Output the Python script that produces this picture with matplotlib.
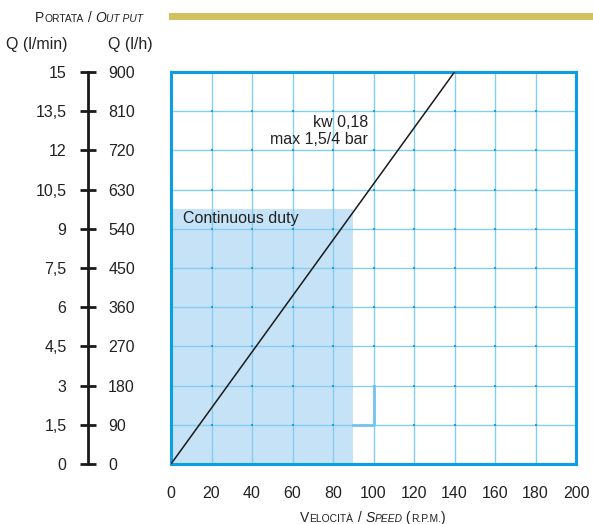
import matplotlib
matplotlib.use("Agg")
import matplotlib.pyplot as plt
import numpy as np
from matplotlib.patches import Rectangle

plt.rcParams['font.family'] = ['Liberation Sans', 'DejaVu Sans']

# data
speed_ticks = [0, 20, 40, 60, 80, 100, 120, 140, 160, 180, 200]
q_lmin_ticks = [0, 1.5, 3, 4.5, 6, 7.5, 9, 10.5, 12, 13.5, 15]
q_lmin_labels = ["0", "1,5", "3", "4,5", "6", "7,5", "9", "10,5", "12", "13,5", "15"]
q_lh_ticks = [0, 90, 180, 270, 360, 450, 540, 630, 720, 810, 900]
curve_speed = [0, 140]
curve_q = [0, 15]
duty_speed_max = 90
duty_q_max = 9.75
step_x = [90, 100, 100]
step_y = [1.5, 1.5, 3]

W, H = 593, 524
fig = plt.figure(figsize=(W/100, H/100), dpi=100)

def fx(px): return px / W
def fy(py): return 1 - py / H

FS = 11.5
txt_c = '#222222'
grid_c = '#86cdf0'
frame_c = '#0c9ee2'
dot_c = '#1a9fe0'

ax = fig.add_axes([fx(171), fy(464), (576-171)/W, (464-72)/H])
ax.set_xlim(0, 200)
ax.set_ylim(0, 15)
ax.add_patch(Rectangle((0, 0), duty_speed_max, duty_q_max, facecolor='#c6e2f6', edgecolor='none', zorder=0))
for x in speed_ticks[1:-1]:
    ax.axvline(x, color=grid_c, lw=1.0, zorder=1)
for y in q_lmin_ticks[1:-1]:
    ax.axhline(y, color=grid_c, lw=1.0, zorder=1)
gx, gy = np.meshgrid(speed_ticks[1:-1], q_lmin_ticks[1:-1])
ax.scatter(gx.ravel(), gy.ravel(), s=3, marker='s', color=dot_c, zorder=2, linewidths=0)
ax.plot(step_x, step_y, color='#74c3ec', lw=2, zorder=2)
ax.plot(curve_speed, curve_q, color='#1a1a1a', lw=1.1, zorder=3)
for s in ax.spines.values():
    s.set_color(frame_c)
    s.set_linewidth(2.2)
ax.set_xticks(speed_ticks)
ax.set_xticklabels([str(v) for v in speed_ticks], fontsize=FS, color=txt_c)
ax.tick_params(axis='x', length=0, pad=16)
ax.set_yticks([])

ax.text(97.3, 13.05, "kw 0,18", ha='right', va='center', fontsize=FS, color=txt_c)
ax.text(97.3, 12.4, "max 1,5/4 bar", ha='right', va='center', fontsize=FS, color=txt_c)
ax.text(5.9, 9.38, "Continuous duty", ha='left', va='center', fontsize=FS, color=txt_c)

# left double axis
axl = fig.add_axes([fx(88), fy(464), 0.0001, (464-72)/H])
axl.set_ylim(0, 15)
axl.set_xticks([])
for k in ['top', 'bottom', 'right']:
    axl.spines[k].set_visible(False)
axl.spines['left'].set_linewidth(2)
axl.spines['left'].set_color('#1a1a1a')
axl.set_yticks(q_lmin_ticks)
axl.set_yticklabels(q_lmin_labels, fontsize=FS, color=txt_c)
axl.tick_params(axis='y', direction='inout', length=11, width=2, color='#1a1a1a', pad=10)
axr = axl.twinx()
axr.set_ylim(0, 900)
for k in ['top', 'bottom', 'left', 'right']:
    axr.spines[k].set_visible(False)
axr.set_yticks(q_lh_ticks)
axr.set_yticklabels([str(v) for v in q_lh_ticks], fontsize=FS, color=txt_c)
axr.tick_params(axis='y', length=0, pad=14.5)

fig.text(fx(68), fy(44), "Q (l/min)", ha='right', va='center', fontsize=FS, color=txt_c)
fig.text(fx(108), fy(44), "Q (l/h)", ha='left', va='center', fontsize=FS, color=txt_c)

# gold bar
fig.patches.append(Rectangle((fx(169), fy(19.5)), (593-169)/W, 6.5/H, transform=fig.transFigure,
                             facecolor='#d3c15f', edgecolor='none'))

def smallcaps(parts, x, y, ha='left'):
    allt = []
    for txt, size, style in parts:
        t = fig.text(x, y, txt, fontsize=size, style=style, ha='left', va='baseline', color=txt_c)
        allt.append(t)
    fig.canvas.draw()
    r = fig.canvas.get_renderer()
    widths = [t.get_window_extent(r).width for t in allt]
    total = sum(widths)
    x0 = x * W
    if ha == 'center':
        x0 = x * W - total / 2
    cur = x0
    for t, w in zip(allt, widths):
        t.set_position((cur / W, y))
        cur += w

P, S = 10, 7.4
smallcaps([("P", P, 'normal'), ("ORTATA", S, 'normal'), (" / ", P, 'normal'),
           ("O", P, 'italic'), ("UT PUT", S, 'italic')], fx(35), fy(22))
smallcaps([("V", P, 'normal'), ("ELOCITÀ", S, 'normal'), (" / ", P, 'normal'),
           ("S", P, 'italic'), ("PEED", S, 'italic'), (" (", P, 'normal'),
           ("R.P.M.", S, 'normal'), (")", P, 'normal')], fx(373), fy(522), ha='center')

fig.savefig("out.png", dpi=100)
